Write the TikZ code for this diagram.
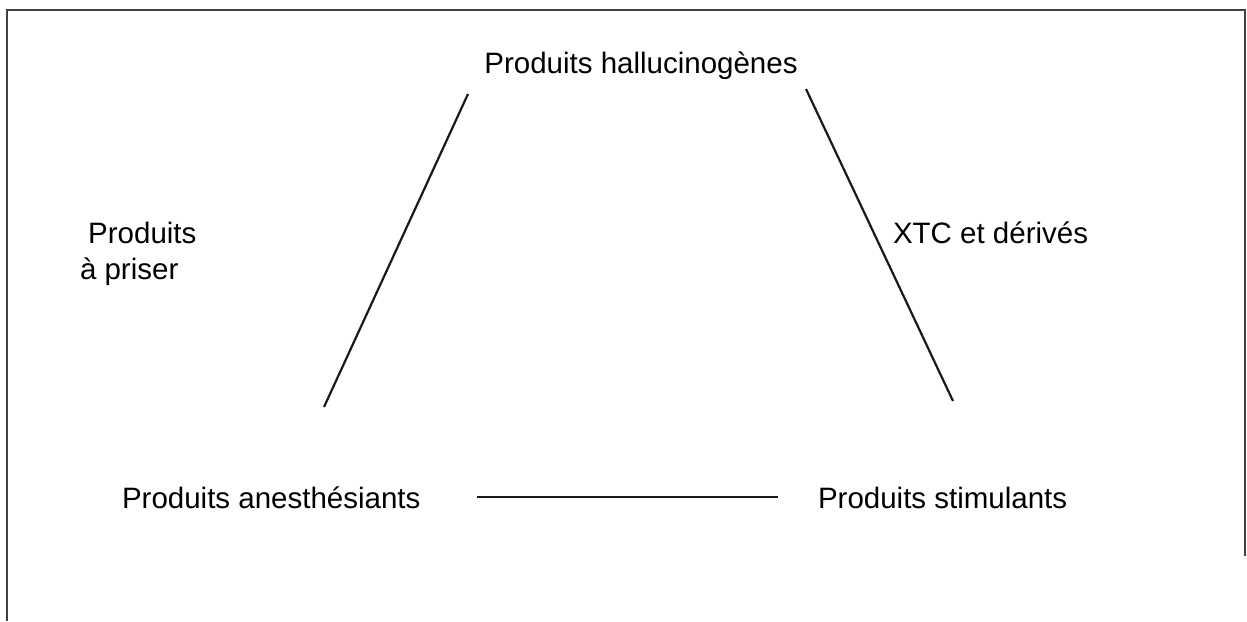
\documentclass[tikz,border=0pt]{standalone}
\usepackage{fontspec}
\setmainfont{Liberation Sans}
\begin{document}
\begin{tikzpicture}[x=0.5pt,y=-0.5pt,
  lbl/.style={inner sep=0pt, outer sep=0pt, font=\fontsize{14.75pt}{18pt}\selectfont},
  conn/.style={line width=1.1pt, black!90},
  frame/.style={line width=1.4pt, black!75}]
\useasboundingbox (0,0) rectangle (1247,621);
% frame (open at bottom)
\coordinate (fbl) at (7,621);
\coordinate (ftl) at (7,10);
\coordinate (ftr) at (1245,10);
\coordinate (fbr) at (1245,556);
\draw[frame] (fbl) -- (ftl) -- (ftr) -- (fbr);
% labels
\node[lbl, anchor=base] (hal) at (641,73) {Produits hallucinogènes};
\node[lbl, anchor=base west, align=left] (pri) at (80,279) {\hspace*{4.1pt}Produits\\à priser};
\node[lbl, anchor=base west] (xtc) at (893,243) {XTC et dérivés};
\node[lbl, anchor=base west] (ane) at (122,508) {Produits anesthésiants};
\node[lbl, anchor=base west] (sti) at (818,508) {Produits stimulants};
% connector end points
\coordinate (l1) at (468,94);
\coordinate (l2) at (324,407);
\coordinate (r1) at (806,89);
\coordinate (r2) at (953,401);
\coordinate (h1) at (477,497);
\coordinate (h2) at (778,497);
\draw[conn] (l1) -- (l2);
\draw[conn] (r1) -- (r2);
\draw[conn] (h1) -- (h2);
\end{tikzpicture}
\end{document}
